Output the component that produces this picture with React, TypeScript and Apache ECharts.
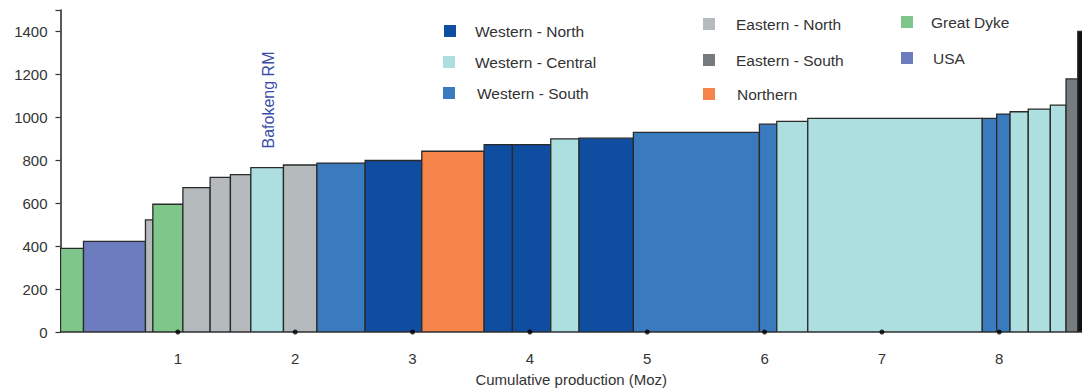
import React, { useEffect, useRef } from "react";
import * as echarts from "echarts";

// Production (Moz) per operation, in merit order
const widths = [0.196, 0.528, 0.063, 0.256, 0.232, 0.173, 0.174, 0.278, 0.285, 0.411, 0.483, 0.531, 0.241, 0.327, 0.241, 0.463, 1.074, 0.148, 0.264, 1.487, 0.123, 0.114, 0.155, 0.188, 0.134, 0.1, 0.04];
// Cash cost per operation
const costs = [390, 422, 522, 595, 673, 720, 733, 766, 778, 787, 799, 842, 873, 873, 900, 903, 930, 968, 981, 995, 995, 1015, 1026, 1038, 1057, 1179, 1400];
// Region of each operation
const regions = ["GD", "USA", "EN", "GD", "EN", "EN", "EN", "WC", "EN", "WS", "WN", "N", "WN", "WN", "WC", "WN", "WS", "WS", "WC", "WC", "WS", "WS", "WC", "WC", "WC", "ES", "X"];

const xTicks = [1, 2, 3, 4, 5, 6, 7, 8];

const regionColors: Record<string, string> = {
  WN: "#0E4DA0",
  WC: "#AEDFE0",
  WS: "#3A7BC0",
  EN: "#B5BABD",
  ES: "#767B7F",
  N: "#F4844A",
  GD: "#7EC68A",
  USA: "#6C7CBE",
  X: "#111111",
};

const legendItems = [
  { key: "WN", label: "Western - North", x: 444, y: 31, tx: 475 },
  { key: "WC", label: "Western - Central", x: 443, y: 62, tx: 475 },
  { key: "WS", label: "Western - South", x: 443, y: 93, tx: 477 },
  { key: "EN", label: "Eastern - North", x: 703, y: 24, tx: 736 },
  { key: "ES", label: "Eastern - South", x: 703, y: 60, tx: 736 },
  { key: "N", label: "Northern", x: 703, y: 94, tx: 737 },
  { key: "GD", label: "Great Dyke", x: 901, y: 22, tx: 931 },
  { key: "USA", label: "USA", x: 901, y: 58, tx: 933 },
];

const FONT = "'Liberation Sans', Arial, sans-serif";

export default function App() {
  const ref = useRef<HTMLDivElement>(null);
  useEffect(() => {
    if (!ref.current) return;
    const chart = echarts.init(ref.current, null, { renderer: "svg" });
    const data: any[] = [];
    let cum = 0;
    widths.forEach((w, i) => {
      data.push([cum, cum + w, costs[i], i]);
      cum += w;
    });
    const graphics: any[] = [];
    legendItems.forEach((it) => {
      graphics.push({
        type: "rect",
        shape: { x: it.x, y: it.y - 6, width: 12, height: 12 },
        style: { fill: regionColors[it.key] },
      });
      graphics.push({
        type: "text",
        x: it.tx,
        y: it.y,
        style: {
          text: it.label,
          fill: "#333",
          font: `15.5px ${FONT}`,
          textVerticalAlign: "middle",
        },
      });
    });
    graphics.push({
      type: "text",
      x: 268,
      y: 100,
      rotation: Math.PI / 2,
      style: {
        text: "Bafokeng RM",
        fill: "#3A4FA8",
        font: `16px ${FONT}`,
        textAlign: "center",
        textVerticalAlign: "middle",
      },
    });
    chart.setOption({
      animation: false,
      grid: { left: 60.5, right: 0, top: 10, bottom: 55.5, containLabel: false },
      xAxis: {
        type: "value",
        min: 0,
        max: 8.705,
        interval: 1,
        name: "Cumulative production (Moz)",
        nameLocation: "middle",
        nameGap: 40,
        nameTextStyle: { color: "#333", fontSize: 15, fontFamily: FONT },
        axisLine: { show: true, onZero: false, lineStyle: { color: "#333", width: 1.5 } },
        axisTick: { show: false },
        splitLine: { show: false },
        axisLabel: {
          color: "#333",
          fontSize: 15,
          fontFamily: FONT,
          margin: 19,
          showMinLabel: false,
          showMaxLabel: false,
          formatter: (v: number) => (xTicks.includes(v) ? String(v) : ""),
        },
      },
      yAxis: {
        type: "value",
        min: 0,
        max: 1500,
        interval: 200,
        axisLine: { show: true, lineStyle: { color: "#222", width: 1.5 } },
        axisTick: { show: true, length: 5, lineStyle: { color: "#333", width: 1.2 } },
        splitLine: { show: false },
        axisLabel: {
          color: "#333",
          fontSize: 15,
          fontFamily: FONT,
          margin: 13,
          formatter: (v: number) => (v > 1400 ? "" : String(v)),
        },
      },
      graphic: graphics,
      series: [
        {
          type: "custom",
          clip: true,
          data,
          renderItem: (params: any, api: any) => {
            const x0 = api.value(0);
            const x1 = api.value(1);
            const c = api.value(2);
            const idx = api.value(3);
            const p0 = api.coord([x0, c]);
            const p1 = api.coord([x1, 0]);
            return {
              type: "rect",
              shape: { x: p0[0], y: p0[1], width: p1[0] - p0[0], height: p1[1] - p0[1] },
              style: {
                fill: regionColors[regions[idx]],
                stroke: "#2a2a2a",
                lineWidth: 1.3,
              },
            };
          },
          z: 2,
        },
        {
          type: "scatter",
          clip: false,
          data: xTicks.map((t) => [t, 0]),
          symbol: "circle",
          symbolSize: 5,
          itemStyle: { color: "#000" },
          z: 5,
        },
      ],
    });
    return () => chart.dispose();
  }, []);
  return (
    <div
      ref={ref}
      style={{ position: "absolute", left: 0, top: 0, width: 1082, height: 392, background: "#fff" }}
    />
  );
}
